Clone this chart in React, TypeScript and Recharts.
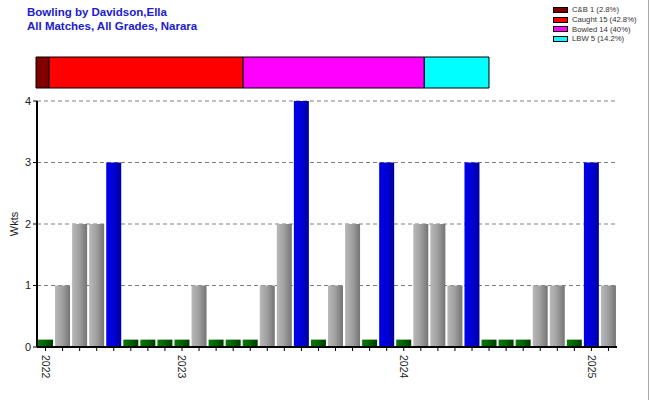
import React from "react";
import { BarChart, Bar, XAxis, YAxis, CartesianGrid, Cell } from "recharts";

// Wickets per match (chronological)
const wickets = [0, 1, 2, 2, 3, 0, 0, 0, 0, 1, 0, 0, 0, 1, 2, 4, 0, 1, 2, 0, 3, 0, 2, 2, 1, 3, 0, 0, 0, 1, 1, 0, 3, 1];
// Tick labels (year marks)
const tickLabels = wickets.map((_, i) =>
  i === 0 ? "2022" : i === 8 ? "2023" : i === 21 ? "2024" : i === 32 ? "2025" : ""
);
const yTicks = [0, 1, 2, 3, 4];

// Dismissal breakdown
const dismissalNames = ["C&B", "Caught", "Bowled", "LBW"];
const dismissalCounts = [1, 15, 14, 5];
const dismissalPct = ["2.8", "42.8", "40", "14.2"];
const dismissalColors = ["#800000", "#ff0000", "#ff00ff", "#00ffff"];

const ZERO_MARK = 0.12;

const mainData = wickets.map((w, i) => ({ idx: i, value: w === 0 ? ZERO_MARK : w, w }));
const stackRow: Record<string, any> = { name: "d" };
dismissalNames.forEach((n, i) => (stackRow[n] = dismissalCounts[i]));
const stackData = [stackRow];
const total = dismissalCounts.reduce((a, b) => a + b, 0);

const FONT = "'Liberation Sans', Arial, sans-serif";

const fillFor = (w: number) => (w === 0 ? "url(#gGreen)" : w >= 3 ? "url(#gBlue)" : "url(#gGray)");

const XTick = (props: any) => {
  const { x, y, payload, index } = props;
  const label = tickLabels[index ?? payload?.index] ?? tickLabels[payload?.value];
  if (!label) return null;
  return (
    <g transform={`translate(${x},${y})`}>
      <text transform="rotate(90)" x={2} y={0} dy="0.35em" fontSize={10.5} fontFamily={FONT} fill="#222" textAnchor="start">
        {label}
      </text>
    </g>
  );
};

export default function App() {
  return (
    <div style={{ position: "absolute", left: 0, top: 0, width: 650, height: 400, background: "#fff", fontFamily: FONT, overflow: "hidden" }}>
      <div style={{ position: "absolute", left: 27, top: 5, color: "#2020cc", fontWeight: "bold", fontSize: 11.5, lineHeight: "14px", whiteSpace: "nowrap" }}>
        <div>Bowling by Davidson,Ella</div>
        <div>All Matches, All Grades, Narara</div>
      </div>

      <div style={{ position: "absolute", left: 553, top: 5, width: 92, fontSize: 7.7, color: "#333", lineHeight: "9.8px", whiteSpace: "nowrap" }}>
        {dismissalNames.map((n, i) => (
          <div key={n} style={{ display: "flex", alignItems: "center", height: 9.8, whiteSpace: "nowrap" }}>
            <span style={{ display: "inline-block", flex: "0 0 auto", width: 13, height: 4, background: dismissalColors[i], border: "1px solid #000", marginRight: 4 }} />
            <span style={{ whiteSpace: "nowrap" }}>{`${n} ${dismissalCounts[i]} (${dismissalPct[i]}%)`}</span>
          </div>
        ))}
      </div>

      <div style={{ position: "absolute", left: 648, top: 0, width: 1, height: 400, background: "#a8a8a8" }} />

      <div style={{ position: "absolute", left: 0, top: 0 }}>
        <BarChart width={650} height={100} data={stackData} layout="vertical" margin={{ top: 57, bottom: 12, left: 36, right: 161 }} barCategoryGap={0}>
          <XAxis type="number" domain={[0, total]} hide />
          <YAxis type="category" dataKey="name" hide />
          {dismissalNames.map((n, i) => (
            <Bar key={n} dataKey={n} stackId="a" fill={dismissalColors[i]} stroke="#000" strokeWidth={1} isAnimationActive={false} />
          ))}
        </BarChart>
      </div>

      <div style={{ position: "absolute", left: 0, top: 0 }}>
        <BarChart width={650} height={400} data={mainData} margin={{ top: 101, bottom: 13, left: 0, right: 33 }} barCategoryGap={1}>
          <defs>
            <linearGradient id="gGray" x1="0" y1="0" x2="1" y2="0">
              <stop offset="0%" stopColor="#b8b8b8" />
              <stop offset="45%" stopColor="#a2a2a2" />
              <stop offset="100%" stopColor="#747474" />
            </linearGradient>
            <linearGradient id="gBlue" x1="0" y1="0" x2="1" y2="0">
              <stop offset="0%" stopColor="#0000e8" />
              <stop offset="50%" stopColor="#0000d8" />
              <stop offset="100%" stopColor="#00009a" />
            </linearGradient>
            <linearGradient id="gGreen" x1="0" y1="0" x2="1" y2="0">
              <stop offset="0%" stopColor="#0a7a0a" />
              <stop offset="50%" stopColor="#006400" />
              <stop offset="100%" stopColor="#003c00" />
            </linearGradient>
          </defs>
          <CartesianGrid vertical={false} stroke="#808080" strokeDasharray="4 3" />
          <XAxis
            dataKey="idx"
            interval={0}
            height={40}
            tick={<XTick />}
            tickLine={{ stroke: "#000" }}
            tickSize={4}
            axisLine={{ stroke: "#000", strokeWidth: 2 }}
          />
          <YAxis
            width={37}
            domain={[0, 4]}
            ticks={yTicks}
            interval={0}
            tick={{ fontSize: 11, fill: "#222", fontFamily: FONT }}
            tickLine={{ stroke: "#000" }}
            tickSize={4}
            axisLine={{ stroke: "#000", strokeWidth: 2 }}
            label={{ value: "Wkts", angle: -90, position: "insideLeft", offset: 14, style: { fontSize: 11, fill: "#222", fontFamily: FONT, textAnchor: "middle" } }}
          />
          <Bar dataKey="value" isAnimationActive={false}>
            {mainData.map((d, i) => (
              <Cell key={i} fill={fillFor(d.w)} />
            ))}
          </Bar>
        </BarChart>
      </div>
    </div>
  );
}
